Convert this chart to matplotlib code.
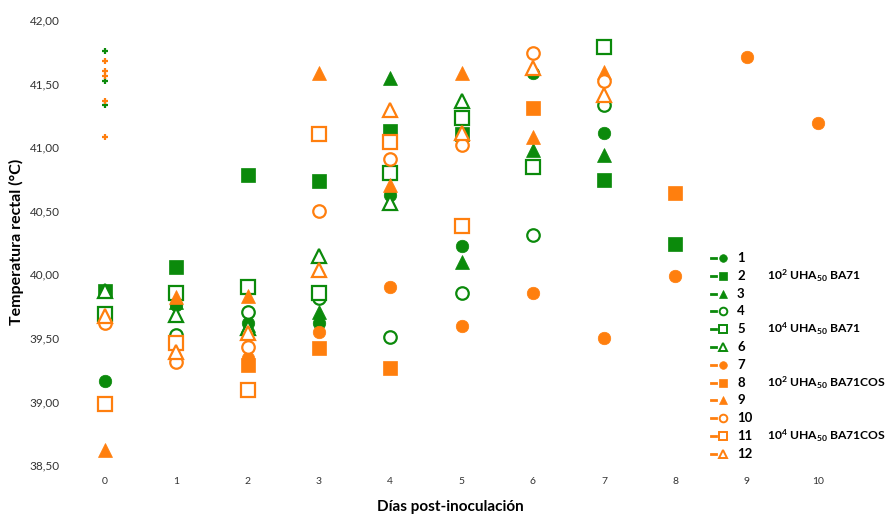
import numpy as np
import matplotlib
matplotlib.use("Agg")
import matplotlib.pyplot as plt
from matplotlib.lines import Line2D

plt.rcParams["font.family"] = ["Lato", "DejaVu Sans"]
plt.rcParams["mathtext.fontset"] = "custom"
plt.rcParams["mathtext.rm"] = "Lato:bold"
plt.rcParams["mathtext.bf"] = "Lato:bold"
plt.rcParams["mathtext.it"] = "Lato:bold"

nan = np.nan
days = list(range(11))

# Rectal temperature (°C) per animal, one value per day post-inoculation
t1 = [39.16, 39.76, 39.62, 39.62, 40.62, 40.22, 41.58, 41.11, nan, nan, nan]
t2 = [39.87, 40.06, 40.78, 40.73, 41.13, 41.10, nan, 40.74, 40.24, nan, nan]
t3 = [39.87, 39.78, 39.60, 39.70, 41.54, 40.10, 40.98, 40.94, nan, nan, nan]
t4 = [nan, 39.52, 39.70, 39.81, 39.51, 39.85, 40.31, 41.33, nan, nan, nan]
t5 = [39.69, 39.85, 39.90, 39.85, 40.80, 41.23, 40.84, 41.79, nan, nan, nan]
t6 = [39.87, 39.68, 39.58, 40.14, 40.56, 41.36, nan, nan, nan, nan, nan]
t7 = [nan, nan, 39.34, 39.55, 39.90, 39.59, 39.85, 39.50, 39.99, 41.71, 41.19]
t8 = [nan, nan, 39.29, 39.42, 39.26, nan, 41.31, nan, 40.64, nan, nan]
t9 = [38.62, 39.82, 39.83, 41.58, 40.70, 41.58, 41.08, 41.59, nan, nan, nan]
t10 = [39.62, 39.31, 39.43, 40.50, 40.91, 41.02, 41.74, 41.52, nan, nan, nan]
t11 = [38.98, 39.46, 39.09, 41.10, 41.04, 40.38, nan, nan, nan, nan, nan]
t12 = [39.67, 39.39, 39.54, 40.03, 41.29, 41.11, 41.62, 41.41, nan, nan, nan]
series = [t1, t2, t3, t4, t5, t6, t7, t8, t9, t10, t11, t12]
series_names = [str(i) for i in range(1, 13)]

# Small day-0 marks near the top of the scale
marks_green = [41.76, 41.52, 41.33]
marks_orange = [41.68, 41.60, 41.56, 41.36, 41.08]

group_labels = [r"10$^2$ UHA$_{50}$ BA71", r"10$^4$ UHA$_{50}$ BA71",
                r"10$^2$ UHA$_{50}$ BA71COS", r"10$^4$ UHA$_{50}$ BA71COS"]

yticks = [38.5, 39.0, 39.5, 40.0, 40.5, 41.0, 41.5, 42.0]

GREEN = "#0b8a0b"
ORANGE = "#ff7f0e"
colors = [GREEN] * 6 + [ORANGE] * 6
shapes = ["o", "s", "^"] * 4
filled = ([True] * 3 + [False] * 3) * 2
sizes = {"o": 9.0, "s": 10.0, "^": 9.5}

W, H = 888, 516
fig = plt.figure(figsize=(W / 100, H / 100), dpi=100)
ax = fig.add_axes([69.35 / W, 1 - 465 / H, 784.3 / W, 445 / H])

for vals, c, m, f in zip(series, colors, shapes, filled):
    ax.plot(days, vals, linestyle="none", marker=m, markersize=sizes[m],
            markerfacecolor=c if f else "white", markeredgecolor=c,
            markeredgewidth=0.5 if f else 1.6, clip_on=False)

ax.plot([0] * len(marks_green), marks_green, linestyle="none", marker="+",
        markersize=5, markeredgewidth=1.6, color=GREEN, clip_on=False)
ax.plot([0] * len(marks_orange), marks_orange, linestyle="none", marker="+",
        markersize=5, markeredgewidth=1.6, color=ORANGE, clip_on=False)

ax.set_xlim(-0.5, 10.5)
ax.set_ylim(38.5, 42.0)
ax.set_xticks(days)
ax.set_xticklabels([str(d) for d in days], fontsize=7.5, color="#333333")
ax.set_yticks(yticks)
ax.set_yticklabels([f"{v:.2f}".replace(".", ",") for v in yticks],
                   fontsize=8.5, color="#333333")
ax.tick_params(axis="both", length=0)
ax.tick_params(axis="x", pad=9)
ax.tick_params(axis="y", pad=7)
for s in ax.spines.values():
    s.set_visible(False)

fig.text(16 / W, 1 - 242 / H, "Temperatura rectal (°C)", rotation=90,
         ha="center", va="center", fontsize=11.5, fontweight="bold")
fig.text(450 / W, 1 - 507 / H, "Días post-inoculación",
         ha="center", va="center", fontsize=11, fontweight="bold")

# Legend: dash + marker + number, with group captions
y0, dy = 258, 17.8
for i, (c, m, f, name) in enumerate(zip(colors, shapes, filled, series_names)):
    yy = 1 - (y0 + i * dy) / H
    fig.add_artist(Line2D([711 / W, 716 / W], [yy, yy], color=c, lw=2))
    fig.add_artist(Line2D([723 / W], [yy], linestyle="none", marker=m,
                          markersize=5.5,
                          markerfacecolor=c if f else "white",
                          markeredgecolor=c, markeredgewidth=1.4 if not f else 0.5))
    fig.text(737 / W, yy, name, ha="left", va="center", fontsize=9.5,
             fontweight="bold")
for k, lab in enumerate(group_labels):
    yy = 1 - (y0 + (1 + 3 * k) * dy) / H
    fig.text(767 / W, yy, lab, ha="left", va="center", fontsize=8.7,
             fontweight="bold")

fig.savefig("out.png", dpi=100)
